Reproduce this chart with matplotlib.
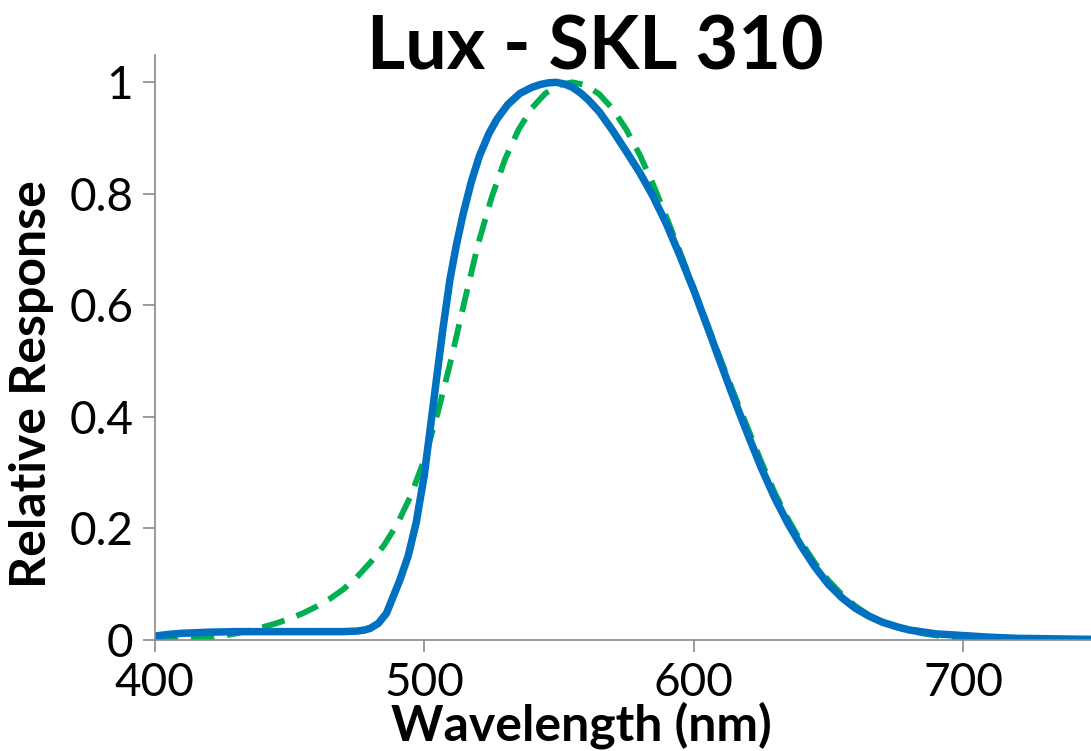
import matplotlib
matplotlib.use("Agg")
import matplotlib.pyplot as plt

# sensor response (blue)
sensor_nm = [400, 405, 410, 420, 430, 440, 450, 460, 470, 475, 478, 480, 483,
             486, 488, 491, 494, 497, 500, 502, 504.5, 507, 509.5, 512, 514.5,
             517.5, 520.5, 524, 527, 531, 535.5, 540, 543, 546, 549, 552, 555,
             558, 561, 565, 570, 575, 580, 585, 590, 595, 600, 605, 610, 615,
             620, 625, 630, 635, 640, 645, 650, 655, 660, 665, 670, 676, 680,
             690, 700, 710, 720, 735, 750]
sensor_resp = [0.007, 0.010, 0.012, 0.014, 0.015, 0.015, 0.015, 0.015, 0.015,
               0.016, 0.018, 0.021, 0.030, 0.048, 0.072, 0.108, 0.150, 0.210,
               0.295, 0.370, 0.466, 0.560, 0.645, 0.710, 0.765, 0.822, 0.868,
               0.908, 0.934, 0.960, 0.980, 0.991, 0.996, 0.999, 1.000, 0.997,
               0.991, 0.981, 0.968, 0.947, 0.913, 0.876, 0.838, 0.795, 0.745,
               0.688, 0.628, 0.563, 0.497, 0.432, 0.370, 0.310, 0.256, 0.209,
               0.168, 0.131, 0.100, 0.076, 0.057, 0.043, 0.032, 0.023, 0.018,
               0.011, 0.008, 0.005, 0.003, 0.002, 0.001]

# photopic eye response (green dashed)
eye_nm = [400, 405, 410, 415, 420, 425, 430, 435, 440, 445, 450, 455, 460, 465,
          470, 475, 480, 485, 490, 495, 500, 505, 510, 515, 520, 525, 530, 535,
          540, 545, 550, 555, 560, 565, 570, 575, 580, 585, 590, 595, 600, 605,
          610, 615, 620, 625, 630, 635, 640, 645, 650, 655, 660, 665, 670, 675,
          680, 685, 690, 695, 700, 710, 720, 730, 740, 750]
eye_resp = [0.0004, 0.0006, 0.0012, 0.0022, 0.004, 0.0073, 0.0116, 0.0168,
            0.023, 0.0298, 0.038, 0.048, 0.060, 0.0739, 0.091, 0.1126, 0.139,
            0.1693, 0.208, 0.2586, 0.323, 0.4073, 0.503, 0.6082, 0.710, 0.7932,
            0.862, 0.9149, 0.954, 0.9803, 0.995, 1.000, 0.995, 0.9786, 0.952,
            0.9154, 0.870, 0.8163, 0.757, 0.6949, 0.631, 0.5668, 0.503, 0.4412,
            0.381, 0.321, 0.265, 0.217, 0.175, 0.1382, 0.107, 0.0816, 0.061,
            0.0446, 0.032, 0.0232, 0.017, 0.0119, 0.0082, 0.00575, 0.0041,
            0.0021, 0.00105, 0.00052, 0.00025, 0.00012]

x_ticks = [400, 500, 600, 700]
y_ticks = [0, 0.2, 0.4, 0.6, 0.8, 1]
y_tick_labels = ["0", "0.2", "0.4", "0.6", "0.8", "1"]

plt.rcParams["font.family"] = ["Lato", "DejaVu Sans"]

fig = plt.figure(figsize=(10.91, 7.51), dpi=100)
ax = fig.add_axes([0.1419, 0.1478, 0.8581, 0.779])

ax.plot(eye_nm, eye_resp, color="#00B050", lw=4.2, linestyle=(0, (4.0, 2.2)),
        solid_joinstyle="round", dash_joinstyle="round")
ax.plot(sensor_nm, sensor_resp, color="#0070C0", lw=5.4,
        solid_capstyle="round", solid_joinstyle="round")

ax.set_xlim(400, 747.5)
ax.set_ylim(0, 1.049)
ax.set_xticks(x_ticks)
ax.set_yticks(y_ticks)
ax.set_yticklabels(y_tick_labels)

for side in ["top", "right"]:
    ax.spines[side].set_visible(False)
for side in ["left", "bottom"]:
    ax.spines[side].set_color("#898989")
    ax.spines[side].set_linewidth(1.2)
ax.tick_params(axis="both", direction="out", length=8.5, width=1.2,
               color="#898989", labelsize=33, pad=7)

fig.text(0.546, 0.907, "Lux - SKL 310", ha="center", va="baseline",
         fontsize=53, fontweight="bold")
fig.text(0.5325, 0.0146, "Wavelength (nm)", ha="center", va="baseline",
         fontsize=36, fontweight="bold")
fig.text(0.008, 0.489, "Relative Response", ha="left", va="center",
         rotation=90, fontsize=36, fontweight="bold")

fig.savefig("out.png", dpi=100)
